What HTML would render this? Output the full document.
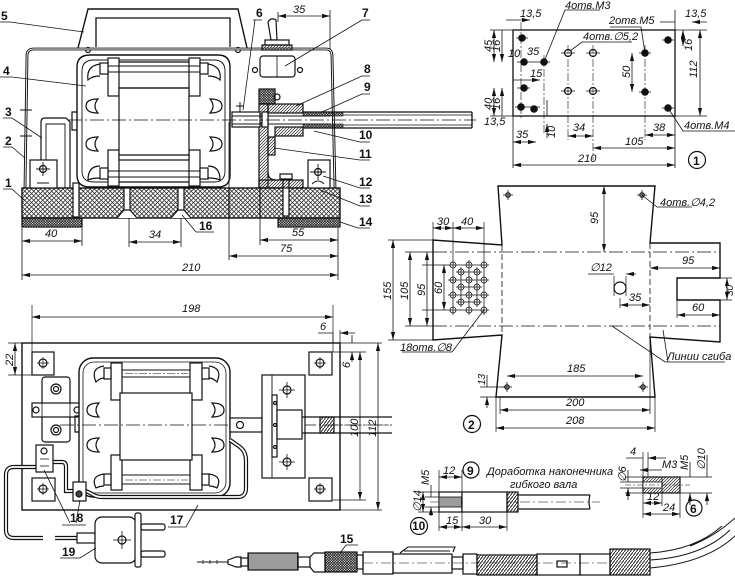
<!DOCTYPE html>
<html><head><meta charset="utf-8"><style>
html,body{margin:0;padding:0;background:#fff;}
svg{display:block}
text{font-family:"Liberation Sans",sans-serif;font-style:italic;font-size:11px;fill:#111;stroke:none}
.b{font-style:normal;font-weight:bold;font-size:12px}
.s{font-size:10px}
</style></head><body>
<svg width="735" height="578" viewBox="0 0 735 578" xmlns="http://www.w3.org/2000/svg">
<defs>
<marker id="a" markerWidth="8" markerHeight="6" refX="8" refY="3" orient="auto-start-reverse" markerUnits="userSpaceOnUse"><path d="M0,0.9 L8,3 L0,5.1Z" fill="#111"/></marker>
<pattern id="x" width="4.5" height="4.5" patternUnits="userSpaceOnUse"><path d="M0,0L4.5,4.5M4.5,0L0,4.5" stroke="#222" stroke-width="0.75"/></pattern>
<pattern id="h" width="3" height="3" patternUnits="userSpaceOnUse"><path d="M0,3L3,0M-1,1L1,-1M2,4L4,2" stroke="#222" stroke-width="0.7"/></pattern>
<pattern id="d" width="2.6" height="2.6" patternUnits="userSpaceOnUse"><path d="M0,0L2.6,2.6M2.6,0L0,2.6" stroke="#111" stroke-width="0.7"/></pattern>
<pattern id="v" width="2" height="4" patternUnits="userSpaceOnUse"><path d="M1,0V4" stroke="#222" stroke-width="0.9"/></pattern>
<pattern id="c" width="3" height="4" patternUnits="userSpaceOnUse"><path d="M0,4L3,0" stroke="#222" stroke-width="1"/></pattern>
</defs>
<rect width="735" height="578" fill="#fff"/>
<g fill="none" stroke="#111" stroke-width="1.2">

<!-- ============ TOP LEFT: side section ============ -->
<path d="M78,48 L88,9 L238,9 L247,48" stroke-width="1.4"/>
<path d="M96,47 V18 H230 V47" stroke-width="1.3"/>
<circle cx="88" cy="50" r="2.5"/><circle cx="238" cy="50" r="2.5"/>
<path d="M25,188 L27,56 Q27,49 34,49 L326,49 Q332,49 332,56 L335,188" stroke-width="2.8"/>
<path d="M25,188 L27,56 Q27,49 34,49 L326,49 Q332,49 332,56 L335,188" stroke="#fff" stroke-width="0.9"/>
<path d="M20,110 H32 M20,136 H32" stroke-width="1"/>
<rect x="22" y="188" width="318" height="30" fill="url(#x)" stroke-width="1.4"/>
<rect x="22" y="218" width="60" height="9" fill="url(#d)"/>
<rect x="278" y="218" width="62" height="9" fill="url(#d)"/>
<path d="M229,188 V218 M260,188 V218"/>
<rect x="73" y="183" width="6" height="34" fill="#fff"/>
<rect x="124" y="180" width="6" height="31" fill="#fff"/>
<path d="M117,218 L124,210 H130 L137,218" fill="#fff"/>
<rect x="178" y="180" width="6" height="31" fill="#fff"/>
<path d="M171,218 L178,210 H184 L191,218" fill="#fff"/>
<rect x="283" y="178" width="6" height="38" fill="#fff"/>
<rect x="280" y="174" width="12" height="5" fill="#fff"/>
<path d="M115,188 Q130,168 150,167 Q175,167 192,188Z" fill="url(#h)"/>
<path d="M90,55 H218 Q230,55 230,67 V175 Q230,187 218,187 H90 Q77,187 77,175 V67 Q77,55 90,55Z" fill="#fff" stroke-width="1.4"/>
<path d="M94,60 H214 Q225,60 225,71 V171 Q225,182 214,182 H94 Q82,182 82,171 V71 Q82,60 94,60Z" stroke-width="0.9"/>
<path d="M77,112 H72 V130 H77"/>
<rect x="108" y="58" width="11" height="38" fill="#fff"/>
<rect x="189" y="58" width="11" height="38" fill="#fff"/>
<rect x="108" y="150" width="11" height="36" fill="#fff"/>
<rect x="189" y="150" width="11" height="36" fill="#fff"/>
<rect x="119" y="88" width="70" height="72" fill="#fff"/>
<path d="M119,62 H189 M119,88 H189 M119,155 H189 M119,182 H189"/>
<path d="M100,66 H208 M100,72 H208 M100,171 H208 M100,177 H208" stroke-width="0.9"/>
<rect x="100" y="63" width="8" height="11" fill="#fff"/><rect x="200" y="63" width="8" height="11" fill="#fff"/>
<rect x="100" y="168" width="8" height="11" fill="#fff"/><rect x="200" y="168" width="8" height="11" fill="#fff"/>
<path d="M100,64 Q86,66 88,80 Q92,76 100,76"/>
<path d="M98,99 Q86,99 86,106 Q86,113 98,113 Q92,106 98,99Z"/>
<path d="M98,137 Q86,137 86,144 Q86,151 98,151 Q92,144 98,137Z"/>
<path d="M100,166 Q88,166 88,180 Q92,178 100,178"/>
<path d="M208,64 Q222,66 220,80 Q216,76 208,76"/>
<path d="M210,99 Q222,99 222,106 Q222,113 210,113 Q216,106 210,99Z"/>
<path d="M210,137 Q222,137 222,144 Q222,151 210,151 Q216,144 210,137Z"/>
<path d="M208,166 Q220,166 220,180 Q216,178 208,178"/>
<path d="M41,160 V122 Q41,118 45,118 H66 L70,122 V188"/>
<path d="M46,160 V124 H65 V188" stroke-width="0.9"/>
<rect x="30" y="160" width="27" height="28" fill="#fff"/>
<circle cx="43" cy="169" r="3.5"/><path d="M36,169 H50 M43,162 V176 M37,183 H49" stroke-width="0.9"/>
<rect x="308" y="160" width="22" height="28" fill="#fff"/>
<circle cx="318" cy="172" r="3.5"/><path d="M310,172 H326 M318,164 V180 M312,184 Q318,178 324,184" stroke-width="0.9"/>
<rect x="259" y="89" width="16" height="15" fill="url(#d)"/>
<circle cx="277" cy="97" r="3"/>
<rect x="259" y="104" width="9" height="84" fill="url(#h)"/>
<rect x="259" y="180" width="44" height="8" fill="url(#h)"/>
<path d="M268,172 Q268,180 276,180"/>
<rect x="268" y="137" width="7" height="18" fill="url(#h)"/>
<rect x="268" y="104" width="35" height="9" fill="url(#h)"/>
<rect x="275" y="127" width="28" height="9" fill="url(#h)"/>
<rect x="232" y="112" width="28" height="15" fill="#fff"/>
<path d="M240,112 V106 M236,106 H244 M240,106 V102" stroke-width="1"/>
<path d="M232,116 H330 M232,124 H330" stroke-width="0.9"/>
<rect x="262" y="112" width="6" height="15" fill="#fff"/>
<path d="M303,112 H472 M303,128 H472 M472,112 V128" stroke-width="1.3"/>
<rect x="303" y="112" width="40" height="4" fill="url(#d)" stroke-width="0.6"/>
<rect x="303" y="124" width="40" height="4" fill="url(#d)" stroke-width="0.6"/>
<path d="M343,115 H472 M343,125 H472" stroke-width="0.7"/>
<path d="M68,120 H476" stroke-dasharray="14,3,2,3" stroke-width="0.8"/>
<path d="M271,40 L268,22 Q271,17 276,20 L277,40Z" fill="#fff"/>
<rect x="265" y="40" width="24" height="5" fill="#fff"/>
<rect x="262" y="45" width="30" height="5" fill="url(#h)"/>
<rect x="260" y="56" width="35" height="21" rx="3" fill="#fff"/>
<circle cx="255" cy="70" r="2.5"/><circle cx="300" cy="70" r="2.5"/>
<path d="M277,56 V77" stroke-width="0.8"/>
<path d="M330,10 V49 M278,12 V22" stroke-width="0.8"/>
<path d="M278,16 H330" stroke-width="0.8" marker-start="url(#a)" marker-end="url(#a)"/>
<text x="293" y="13">35</text>
<path d="M22,228 V280 M82,228 V246 M129,218 V247 M181,218 V247 M229,122 V260 M260,188 V245 M338,228 V280" stroke-width="0.8"/>
<path d="M22,241 H82" stroke-width="0.8" marker-start="url(#a)" marker-end="url(#a)"/>
<text x="45" y="237">40</text>
<path d="M129,242 H181" stroke-width="0.8" marker-start="url(#a)" marker-end="url(#a)"/>
<text x="149" y="238">34</text>
<path d="M260,240 H338" stroke-width="0.8" marker-start="url(#a)" marker-end="url(#a)"/>
<text x="292" y="236">55</text>
<path d="M229,256 H338" stroke-width="0.8" marker-start="url(#a)" marker-end="url(#a)"/>
<text x="280" y="252">75</text>
<path d="M22,275 H338" stroke-width="0.8" marker-start="url(#a)" marker-end="url(#a)"/>
<text x="182" y="271">210</text>
<path d="M0,22 H10 L84,32 M0,77 H12 L86,86 M3,118 H12 L42,138 M3,147 H12 L25,158 M3,189 H12 L24,200" stroke-width="0.8"/>
<text class="b" x="1" y="20">5</text>
<text class="b" x="3" y="75">4</text>
<text class="b" x="5" y="116">3</text>
<text class="b" x="5" y="145">2</text>
<text class="b" x="5" y="187">1</text>
<path d="M370,20 H362 L285,66 M370,76 H362 L296,106 M370,94 H362 L322,112 M370,142 H360 L314,131 M370,160 H360 L274,148 M370,188 H360 L323,176 M370,206 H360 L320,190 M370,228 H358 L340,222" stroke-width="0.8"/>
<text class="b" x="362" y="17">7</text>
<text class="b" x="364" y="73">8</text>
<text class="b" x="364" y="91">9</text>
<text class="b" x="359" y="139">10</text>
<text class="b" x="359" y="158">11</text>
<text class="b" x="359" y="186">12</text>
<text class="b" x="359" y="203">13</text>
<text class="b" x="359" y="226">14</text>
<path d="M253,20 H262 M255,20 L243,110" stroke-width="0.8"/>
<text class="b" x="256" y="17">6</text>
<path d="M182,215 L196,232 H214" stroke-width="0.8"/>
<text class="b" x="199" y="230">16</text>

<!-- ============ TOP RIGHT: drawing 1 ============ -->
<rect x="513" y="30" width="162" height="86" stroke-width="1.3"/>
<path d="M490,30 H513 M675,30 H707 M490,116 H513 M675,116 H707 M513,116 V168 M675,10 V30 M675,116 V168" stroke-width="0.8"/>
<path d="M568,45 V140 M593,45 V160 M645,45 V140 M521,22 V120 M544,55 V135" stroke-width="0.6" stroke-dasharray="8,2,2,2"/>
<g fill="#111">
<circle cx="522" cy="38" r="3.2"/><circle cx="524" cy="62" r="3.2"/><circle cx="544" cy="62" r="3.2"/>
<circle cx="524" cy="88" r="3.2"/><circle cx="521" cy="107" r="3.2"/><circle cx="534" cy="109" r="3.2"/>
<circle cx="645" cy="53" r="3.2"/><circle cx="645" cy="92" r="3.2"/>
<circle cx="668" cy="40" r="3.2"/><circle cx="668" cy="108" r="3.2"/>
</g>
<circle cx="568" cy="53" r="3.5"/><circle cx="593" cy="53" r="3.5"/><circle cx="568" cy="91" r="3.5"/><circle cx="593" cy="91" r="3.5"/>
<path d="M561,53 H575 M586,53 H600 M561,91 H575 M586,91 H600 M516,38 H528 M517,62 H550 M517,88 H530 M515,107 H540 M639,53 H651 M639,92 H651 M662,40 H674 M662,108 H674" stroke-width="0.8"/>
<path d="M506,20 H530" stroke-width="0.8" marker-end="url(#a)"/>
<text x="520" y="17">13,5</text>
<path d="M660,22 H675 M707,22 H692" stroke-width="0.8" marker-end="url(#a)"/>
<text x="685" y="17">13,5</text>
<path d="M494,30 V62" stroke-width="0.8" marker-start="url(#a)" marker-end="url(#a)"/>
<text x="0" y="0" transform="translate(492,52) rotate(-90)">45</text>
<path d="M502,30 V62" stroke-width="0.8" marker-end="url(#a)"/>
<text x="0" y="0" transform="translate(500,52) rotate(-90)">16</text>
<text x="508" y="57">10</text><text x="527" y="55">35</text>
<path d="M513,80 H540" stroke-width="0.8" marker-end="url(#a)"/>
<text x="530" y="77">15</text>
<path d="M494,88 V116" stroke-width="0.8" marker-start="url(#a)" marker-end="url(#a)"/>
<text x="0" y="0" transform="translate(492,110) rotate(-90)">40</text>
<path d="M502,88 V116" stroke-width="0.8" marker-start="url(#a)"/>
<text x="0" y="0" transform="translate(500,110) rotate(-90)">16</text>
<text x="484" y="125">13,5</text>
<path d="M547,100 V116 M547,138 V124" stroke-width="0.8" marker-end="url(#a)"/>
<text x="0" y="0" transform="translate(555,138) rotate(-90)">10</text>
<path d="M513,142 H536" stroke-width="0.8" marker-start="url(#a)" marker-end="url(#a)"/>
<text x="516" y="138">35</text>
<path d="M568,136 H593" stroke-width="0.8" marker-start="url(#a)" marker-end="url(#a)"/>
<text x="573" y="131">34</text>
<path d="M632,53 V92" stroke-width="0.8" marker-start="url(#a)" marker-end="url(#a)"/>
<text x="0" y="0" transform="translate(630,78) rotate(-90)">50</text>
<path d="M645,135 H675" stroke-width="0.8" marker-start="url(#a)" marker-end="url(#a)"/>
<text x="653" y="131">38</text>
<path d="M593,148 H675" stroke-width="0.8" marker-start="url(#a)" marker-end="url(#a)"/>
<text x="625" y="145">105</text>
<path d="M513,165 H675" stroke-width="0.8" marker-start="url(#a)" marker-end="url(#a)"/>
<text x="578" y="162">210</text>
<path d="M683,30 V46" stroke-width="0.8" marker-start="url(#a)" marker-end="url(#a)"/>
<text x="0" y="0" transform="translate(692,51) rotate(-90)">16</text>
<path d="M700,30 V116" stroke-width="0.8" marker-start="url(#a)" marker-end="url(#a)"/>
<text x="0" y="0" transform="translate(697,78) rotate(-90)">112</text>
<circle cx="697" cy="160" r="8.5"/>
<text class="b" x="693" y="165">1</text>
<path d="M668,108 L683,131 H735" stroke-width="0.8"/>
<text x="684" y="129">4отв.M4</text>
<path d="M544,62 L565,10 H600" stroke-width="0.8"/>
<text x="565" y="9">4отв.M3</text>
<path d="M645,53 L641,27 H610" stroke-width="0.8"/>
<text x="609" y="24">2отв.M5</text>
<path d="M570,51 L582,42 H632" stroke-width="0.8"/>
<text x="583" y="40">4отв.∅5,2</text>

<!-- ============ drawing 2: sheet ============ -->
<path d="M498,186 H655 L650,243 H720 V278 H677 V300 H720 V342 L650,337 L655,397 H496 L502,335 L433,340 V240 L502,245 Z" stroke-width="1.4"/>
<path d="M433,252 H720 M433,326 H720" stroke-width="0.8" stroke-dasharray="14,3,2,3"/>
<path d="M502,245 V335 M650,243 V337" stroke-width="0.8" stroke-dasharray="6,3"/>
<g stroke-width="0.8">
<circle cx="453" cy="265" r="3"/><circle cx="469" cy="265" r="3"/><circle cx="484" cy="265" r="3"/>
<circle cx="461" cy="272" r="3"/><circle cx="477" cy="272" r="3"/>
<circle cx="453" cy="280" r="3"/><circle cx="469" cy="280" r="3"/><circle cx="484" cy="280" r="3"/>
<circle cx="461" cy="287" r="3"/><circle cx="477" cy="287" r="3"/>
<circle cx="453" cy="295" r="3"/><circle cx="469" cy="295" r="3"/><circle cx="484" cy="295" r="3"/>
<circle cx="461" cy="302" r="3"/><circle cx="477" cy="302" r="3"/>
<circle cx="453" cy="310" r="3"/><circle cx="469" cy="310" r="3"/><circle cx="484" cy="310" r="3"/>
<path d="M448,265 H489 M448,280 H489 M448,295 H489 M448,310 H489 M456,272 H482 M456,287 H482 M456,302 H482 M453,260 V315 M469,260 V315 M484,260 V315 M461,267 V307 M477,267 V307"/>
</g>
<circle cx="620" cy="288" r="6"/>
<path d="M614,276 V296 M626,276 V296" stroke-width="0.7"/>
<circle cx="508" cy="195" r="2.2"/><circle cx="642" cy="195" r="2.2"/><circle cx="507" cy="387" r="2.2"/><circle cx="643" cy="387" r="2.2"/>
<path d="M503,195 H513 M508,190 V200 M637,195 H647 M642,190 V200 M502,387 H512 M507,382 V392 M638,387 H648 M643,382 V392" stroke-width="0.8"/>
<path d="M433,240 V222 M453,260 V222 M484,260 V222" stroke-width="0.7"/>
<path d="M433,228 H453" stroke-width="0.8" marker-start="url(#a)" marker-end="url(#a)"/>
<path d="M453,228 H484" stroke-width="0.8" marker-start="url(#a)" marker-end="url(#a)"/>
<text x="437" y="225">30</text><text x="461" y="225">40</text>
<path d="M388,240 H433 M388,340 H433 M405,252 H433 M405,326 H433 M422,265 H448 M422,310 H448" stroke-width="0.7"/>
<path d="M393,240 V340" stroke-width="0.8" marker-start="url(#a)" marker-end="url(#a)"/>
<text x="0" y="0" transform="translate(391,300) rotate(-90)">155</text>
<path d="M410,252 V326" stroke-width="0.8" marker-start="url(#a)" marker-end="url(#a)"/>
<text x="0" y="0" transform="translate(408,300) rotate(-90)">105</text>
<path d="M427,252 V326" stroke-width="0.8" marker-start="url(#a)" marker-end="url(#a)"/>
<text x="0" y="0" transform="translate(425,296) rotate(-90)">95</text>
<path d="M444,265 V310" stroke-width="0.8" marker-start="url(#a)" marker-end="url(#a)"/>
<text x="0" y="0" transform="translate(442,294) rotate(-90)">60</text>
<path d="M604,186 V252" stroke-width="0.8" marker-start="url(#a)" marker-end="url(#a)"/>
<text x="0" y="0" transform="translate(598,224) rotate(-90)">95</text>
<path d="M642,195 L657,207 H692" stroke-width="0.8"/>
<text x="660" y="206">4отв.∅4,2</text>
<path d="M588,274 H614 M636,274 H626" stroke-width="0.8" marker-end="url(#a)"/>
<text x="590" y="271">∅12</text>
<path d="M650,268 H720" stroke-width="0.8" marker-start="url(#a)" marker-end="url(#a)"/>
<text x="682" y="264">95</text>
<path d="M620,298 V308" stroke-width="0.7"/>
<path d="M620,305 H650" stroke-width="0.8" marker-start="url(#a)" marker-end="url(#a)"/>
<text x="629" y="301">35</text>
<path d="M720,278 H732 M720,300 H732" stroke-width="0.7"/>
<path d="M727,278 V300" stroke-width="0.8" marker-start="url(#a)" marker-end="url(#a)"/>
<text x="0" y="0" transform="translate(733,296) rotate(-90)" class="s">30</text>
<path d="M677,300 V318" stroke-width="0.7"/>
<path d="M677,315 H720" stroke-width="0.8" marker-start="url(#a)" marker-end="url(#a)"/>
<text x="692" y="311">60</text>
<path d="M484,310 L452,352 H402" stroke-width="0.8"/>
<text x="400" y="351">18отв.∅8</text>
<path d="M612,326 L665,362 H725" stroke-width="0.8"/>
<text x="667" y="360">Линии сгиба</text>
<path d="M663,330 L668,362" stroke-width="0.8"/>
<path d="M507,376 H643" stroke-width="0.8" marker-start="url(#a)" marker-end="url(#a)"/>
<text x="567" y="372">185</text>
<path d="M480,387 H507 M480,397 H496" stroke-width="0.7"/>
<path d="M487,375 V387 M487,408 V397" stroke-width="0.8" marker-end="url(#a)"/>
<text x="0" y="0" transform="translate(485,385) rotate(-90)" class="s">13</text>
<path d="M496,397 V432 M655,397 V432 M500,397 V414 M650,337 V414" stroke-width="0.7"/>
<path d="M500,410 H650" stroke-width="0.8" marker-start="url(#a)" marker-end="url(#a)"/>
<text x="566" y="406">200</text>
<path d="M496,428 H655" stroke-width="0.8" marker-start="url(#a)" marker-end="url(#a)"/>
<text x="566" y="424">208</text>
<circle cx="472" cy="424" r="8.5"/>
<text class="b" x="468" y="429">2</text>

<!-- ============ BOTTOM LEFT: top view ============ -->
<rect x="22" y="343" width="318" height="167" stroke-width="1.4"/>
<path d="M32,305 V352 M333,305 V352" stroke-width="0.7"/>
<path d="M32,317 H333" stroke-width="0.8" marker-start="url(#a)" marker-end="url(#a)"/>
<text x="182" y="312">198</text>
<path d="M8,343 H22 M8,375 H32" stroke-width="0.7"/>
<path d="M15,343 V375" stroke-width="0.8" marker-start="url(#a)" marker-end="url(#a)"/>
<text x="0" y="0" transform="translate(13,366) rotate(-90)">22</text>
<rect x="32" y="352" width="22" height="23"/><circle cx="43" cy="363" r="4"/><path d="M37,363 H49 M43,357 V369" stroke-width="0.7"/>
<rect x="309" y="352" width="23" height="23"/><circle cx="320" cy="363" r="4"/><path d="M314,363 H326 M320,357 V369" stroke-width="0.7"/>
<rect x="32" y="478" width="23" height="23"/><circle cx="43" cy="489" r="4"/><path d="M37,489 H49 M43,483 V495" stroke-width="0.7"/>
<rect x="309" y="478" width="23" height="23"/><circle cx="320" cy="489" r="4"/><path d="M314,489 H326 M320,483 V495" stroke-width="0.7"/>
<rect x="42" y="377" width="28" height="65" rx="3" fill="#fff"/>
<circle cx="56" cy="389" r="5"/><circle cx="56" cy="389" r="2.5"/>
<circle cx="56" cy="430" r="5"/><circle cx="56" cy="430" r="2.5"/>
<rect x="32" y="403" width="48" height="14" fill="#fff"/>
<path d="M42,403 V417 M70,403 V417" stroke-width="0.8"/>
<circle cx="36" cy="410" r="3"/><circle cx="77" cy="410" r="3"/>
<rect x="79" y="358" width="151" height="139" rx="14" fill="#fff" stroke-width="1.4"/>
<rect x="83" y="362" width="143" height="131" rx="11" stroke-width="0.8"/>
<rect x="111" y="363" width="11" height="37" fill="#fff"/><rect x="190" y="363" width="12" height="37" fill="#fff"/>
<rect x="111" y="455" width="11" height="35" fill="#fff"/><rect x="190" y="455" width="12" height="35" fill="#fff"/>
<rect x="120" y="393" width="72" height="67" fill="#fff"/>
<path d="M122,370 H190 M122,377 H190 M122,475 H190 M122,484 H190" stroke-width="0.9"/>
<path d="M125,373.5 H188 M125,480 H188" stroke-width="0.6" stroke-dasharray="8,2,2,2"/>
<rect x="104" y="368" width="7" height="11" fill="#fff"/><rect x="202" y="368" width="7" height="11" fill="#fff"/>
<rect x="104" y="474" width="7" height="11" fill="#fff"/><rect x="202" y="474" width="7" height="11" fill="#fff"/>
<path d="M104,366 Q90,368 96,382 Q100,378 104,378"/><path d="M209,366 Q223,368 217,382 Q213,378 209,378"/>
<path d="M104,474 Q90,476 96,488 Q100,486 104,486"/><path d="M209,474 Q223,476 217,488 Q213,486 209,486"/>
<path d="M99,403 Q87,403 87,410 Q87,417 99,417 Q93,410 99,403Z"/>
<path d="M99,438 Q87,438 87,445 Q87,452 99,452 Q93,445 99,438Z"/>
<path d="M212,403 Q224,403 224,410 Q224,417 212,417 Q218,410 212,403Z"/>
<path d="M212,438 Q224,438 224,445 Q224,452 212,452 Q218,445 212,438Z"/>
<path d="M79,416 H75 V432 H79"/>
<path d="M60,425 H392" stroke-width="0.8" stroke-dasharray="14,3,2,3"/>
<rect x="230" y="418" width="32" height="14" fill="#fff"/>
<circle cx="240" cy="425" r="3.5"/>
<rect x="262" y="375" width="43" height="103" fill="#fff"/>
<path d="M272,375 V478" stroke-width="0.9"/>
<rect x="272" y="395" width="5" height="62" fill="#fff"/>
<circle cx="275" cy="403" r="1.5"/><circle cx="275" cy="425" r="1.5"/><circle cx="275" cy="447" r="1.5"/>
<rect x="277" y="410" width="25" height="29" fill="#fff"/>
<circle cx="287" cy="390" r="4"/><path d="M279,390 H295 M287,382 V398" stroke-width="0.8"/>
<circle cx="287" cy="462" r="4"/><path d="M279,462 H295 M287,454 V470" stroke-width="0.8"/>
<path d="M302,417 H392 M302,433 H392" stroke-width="1.3"/>
<rect x="320" y="417" width="14" height="16" fill="url(#c)"/>
<path d="M333,425 H392" stroke-width="0.6" stroke-dasharray="8,3,2,3"/>
<path d="M340,343 H382 M340,510 H382 M333,352 H366 M333,500 H366 M333,333 V343 M340,330 V343" stroke-width="0.7"/>
<path d="M318,333 H333 M355,333 H340" stroke-width="0.8" marker-end="url(#a)"/>
<text x="320" y="330">6</text>
<path d="M352,335 V343 M352,362 V352" stroke-width="0.8" marker-end="url(#a)"/>
<text x="0" y="0" transform="translate(350,368) rotate(-90)">6</text>
<path d="M360,352 V500" stroke-width="0.8" marker-start="url(#a)" marker-end="url(#a)"/>
<text x="0" y="0" transform="translate(358,437) rotate(-90)">100</text>
<path d="M378,343 V510" stroke-width="0.8" marker-start="url(#a)" marker-end="url(#a)"/>
<text x="0" y="0" transform="translate(376,437) rotate(-90)">112</text>
<path d="M230,440 L240,447 Q246,452 246,460 V488 Q246,497 238,497 H102 Q96,497 92,494 L84,490" stroke-width="4.2"/>
<path d="M230,440 L240,447 Q246,452 246,460 V488 Q246,497 238,497 H102 Q96,497 92,494 L84,490" stroke="#fff" stroke-width="1.8"/>
<path d="M52,462 H62 Q66,462 66,467 V491 H73" stroke-width="4.2"/>
<path d="M52,462 H62 Q66,462 66,467 V491 H73" stroke="#fff" stroke-width="1.8"/>
<path d="M36,467 H14 Q6,467 6,475 V530 Q6,538 14,538 H43 M55,538 H78" stroke-width="4.2"/>
<path d="M36,467 H14 Q6,467 6,475 V530 Q6,538 14,538 H43 M55,538 H78" stroke="#fff" stroke-width="1.8"/>
<rect x="36" y="445" width="17" height="27" fill="#fff"/><circle cx="44" cy="451" r="3"/><path d="M40,459 H49 M40,466 H49" stroke-width="0.8"/>
<rect x="73" y="482" width="13" height="19" fill="#fff"/><circle cx="79" cy="494" r="3" fill="#444"/>
<rect x="77" y="533" width="18" height="10" fill="#fff"/>
<rect x="95" y="517" width="41" height="46" rx="7" fill="#fff"/>
<rect x="135" y="513" width="6" height="54" rx="2" fill="#fff"/>
<rect x="141" y="524" width="24" height="6" rx="2"/><rect x="141" y="551" width="24" height="6" rx="2"/>
<circle cx="122" cy="540" r="4"/><path d="M113,540 H131 M122,531 V549" stroke-width="0.8"/>
<path d="M70,523 L44,470 M76,523 L80,500 M62,525 H86" stroke-width="0.8"/>
<text class="b" x="70" y="522">18</text>
<path d="M60,558 H80 L96,548" stroke-width="0.8"/>
<text class="b" x="62" y="556">19</text>
<path d="M168,527 H186 L198,505" stroke-width="0.8"/>
<text class="b" x="170" y="524">17</text>

<!-- ============ handpiece ============ -->
<path d="M197,562 H228" stroke-width="1"/>
<path d="M203,560 V564 M210,560 V564 M217,560 V564" stroke-width="0.8"/>
<path d="M228,560 L236,557 H241 V567 H236 L228,564Z" fill="#fff"/>
<rect x="241" y="558" width="7" height="8"/>
<rect x="248" y="553" width="50" height="17" fill="url(#v)"/>
<rect x="298" y="557" width="12" height="10"/>
<path d="M310,557 L314,553 H325 V572 H314 L310,567Z" fill="#fff"/>
<rect x="325" y="552" width="32" height="20" fill="url(#d)"/>
<rect x="357" y="555" width="6" height="14"/>
<rect x="363" y="552" width="30" height="22"/>
<rect x="393" y="554" width="59" height="19"/>
<path d="M400,553 L408,547 H455 L453,552 M404,551 H450" stroke-width="1.1"/>
<rect x="452" y="557" width="11" height="12"/>
<rect x="463" y="554" width="14" height="20"/>
<rect x="477" y="555" width="60" height="20" fill="url(#c)"/>
<rect x="537" y="554" width="43" height="21"/>
<rect x="557" y="561" width="10" height="6" fill="#fff"/>
<rect x="580" y="554" width="30" height="21"/>
<rect x="610" y="549" width="40" height="26" fill="url(#c)"/>
<path d="M363,563 H610" stroke-width="0.6" stroke-dasharray="10,3,2,3"/>
<path d="M650,553 Q695,550 722,526 M650,560 Q702,557 730,530 M650,568 Q706,563 735,536 M690,546 Q714,537 735,518" stroke-width="1"/>
<path d="M340,553 L346,545 H358" stroke-width="0.8"/>
<text class="b" x="340" y="543">15</text>

<!-- ============ part 10 ============ -->
<path d="M430,502 H600" stroke-width="0.6" stroke-dasharray="10,3,2,3"/>
<rect x="439" y="492" width="23" height="20" fill="#fff"/>
<rect x="439" y="497" width="23" height="10" fill="url(#v)" stroke-width="0.8"/>
<rect x="462" y="492" width="45" height="20" fill="#fff"/>
<rect x="507" y="492" width="11" height="20" fill="url(#c)"/>
<path d="M518,495 H590 M518,509 H590 M590,495 Q588,502 590,509" stroke-width="1.2"/>
<path d="M439,470 V492 M462,470 V492 M439,512 V531 M462,512 V531 M507,512 V531 M418,492 H439 M418,512 H439 M425,497 H439 M425,507 H439" stroke-width="0.7"/>
<path d="M439,477 H462" stroke-width="0.8" marker-start="url(#a)" marker-end="url(#a)"/>
<text x="443" y="474">12</text>
<path d="M423,492 V512" stroke-width="0.8" marker-start="url(#a)" marker-end="url(#a)"/>
<text x="0" y="0" transform="translate(421,512) rotate(-90)">∅14</text>
<path d="M431,485 V497 M431,516 V507" stroke-width="0.8" marker-end="url(#a)"/>
<text x="0" y="0" transform="translate(429,485) rotate(-90)">M5</text>
<path d="M439,527 H462" stroke-width="0.8" marker-start="url(#a)" marker-end="url(#a)"/>
<path d="M462,527 H507" stroke-width="0.8" marker-start="url(#a)" marker-end="url(#a)"/>
<text x="446" y="524">15</text><text x="479" y="524">30</text>
<circle cx="419" cy="526" r="8.5"/>
<text class="b" x="412" y="530">10</text>
<circle cx="471" cy="470" r="8"/>
<text class="b" x="467" y="475">9</text>
<text x="487" y="475">Доработка наконечника</text>
<text x="510" y="488">гибкого вала</text>

<!-- ============ part 6 ============ -->
<rect x="643" y="477" width="37" height="16" fill="url(#h)"/>
<rect x="643" y="482" width="19" height="6" fill="#fff" stroke-width="0.8"/>
<path d="M662,477 V493" stroke-width="0.8"/>
<path d="M625,485 H690" stroke-width="0.6" stroke-dasharray="6,2,2,2"/>
<path d="M643,452 V477 M648,452 V477 M643,493 V518 M680,493 V518 M662,493 V506 M625,477 H643 M625,493 H643 M680,477 H712 M680,493 H712 M620,482 H643 M620,488 H643" stroke-width="0.7"/>
<path d="M626,458 H643 M666,458 H648" stroke-width="0.8" marker-end="url(#a)"/>
<text x="630" y="455">4</text>
<path d="M640,470 H662" stroke-width="0.8" marker-start="url(#a)"/>
<text x="662" y="468">M3</text>
<path d="M690,462 V477 M690,505 V493" stroke-width="0.8" marker-end="url(#a)"/>
<text x="0" y="0" transform="translate(688,470) rotate(-90)">M5</text>
<path d="M707,455 V477 M707,505 V493" stroke-width="0.8" marker-end="url(#a)"/>
<text x="0" y="0" transform="translate(705,470) rotate(-90)">∅10</text>
<path d="M628,470 V482 M628,500 V488" stroke-width="0.8" marker-end="url(#a)"/>
<text x="0" y="0" transform="translate(626,482) rotate(-90)">∅6</text>
<path d="M643,503 H662" stroke-width="0.8" marker-start="url(#a)" marker-end="url(#a)"/>
<text x="647" y="500">12</text>
<path d="M643,514 H680" stroke-width="0.8" marker-start="url(#a)" marker-end="url(#a)"/>
<text x="663" y="511">24</text>
<circle cx="694" cy="508" r="8"/>
<text class="b" x="690" y="513">6</text>
</g>
</svg>
</body></html>
